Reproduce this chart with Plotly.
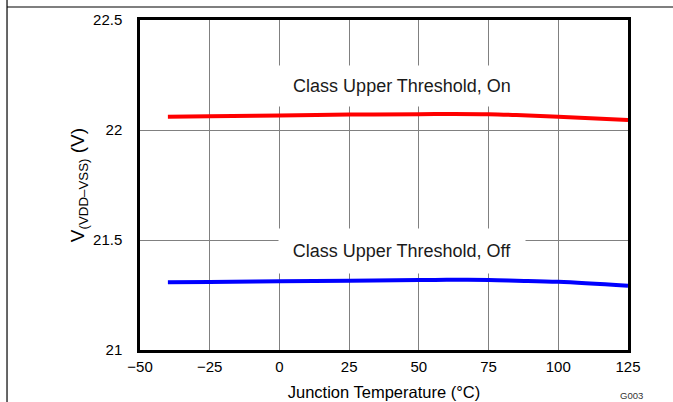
import plotly.graph_objects as go

temps = [-40, -25, 0, 25, 50, 60, 75, 85, 100, 125]
v_on = [22.060, 22.062, 22.066, 22.070, 22.072, 22.073, 22.072, 22.068, 22.060, 22.046]
v_off = [21.308, 21.309, 21.312, 21.315, 21.318, 21.319, 21.318, 21.315, 21.310, 21.292]
label_on = "Class Upper Threshold, On"
label_off = "Class Upper Threshold, Off"
x_ticks = [-50, -25, 0, 25, 50, 75, 100, 125]
y_ticks = [21, 21.5, 22, 22.5]
y_ticktext = ["21", "21.5", "22", "22.5"]

FONT = "Liberation Sans, Arial, sans-serif"

fig = go.Figure()
fig.add_trace(go.Scatter(x=temps, y=v_on, mode="lines",
                         line=dict(color="#ff0000", width=4, shape="spline"),
                         showlegend=False))
fig.add_trace(go.Scatter(x=temps, y=v_off, mode="lines",
                         line=dict(color="#0000ff", width=4, shape="spline"),
                         showlegend=False))

fig.add_annotation(x=44, y=22.2, xref="x", yref="y", text=label_on,
                   showarrow=False, bgcolor="white", width=244, height=38,
                   font=dict(family=FONT, size=18, color="#1a1a1a"))
fig.add_annotation(x=44, y=21.45, xref="x", yref="y", text=label_off,
                   showarrow=False, bgcolor="white", width=244, height=42,
                   font=dict(family=FONT, size=18, color="#1a1a1a"))

fig.add_annotation(x=1.008, y=-0.139, xref="paper", yref="paper", text="G003",
                   showarrow=False, xanchor="center", yanchor="middle",
                   font=dict(family=FONT, size=9.5, color="#333333"))

# page frame lines
fig.add_shape(type="line", xref="paper", yref="paper",
              x0=-0.2725, x1=1.1, y0=1.0394, y1=1.0394,
              line=dict(color="black", width=1.2))
fig.add_shape(type="line", xref="paper", yref="paper",
              x0=-0.2725, x1=-0.2725, y0=1.07, y1=-0.17,
              line=dict(color="black", width=1.2))

fig.update_xaxes(range=[-50, 125], tickvals=x_ticks, showgrid=True,
                 gridcolor="#808080", gridwidth=1, zeroline=False,
                 showline=True, linecolor="black", linewidth=2.5, mirror=True,
                 ticks="", ticklabelstandoff=1,
                 tickfont=dict(family=FONT, size=15, color="black"),
                 title=dict(text="Junction Temperature (°C)", standoff=13,
                            font=dict(family=FONT, size=16.5, color="black")))
fig.update_yaxes(range=[21, 22.5], tickvals=y_ticks, ticktext=y_ticktext,
                 showgrid=True, gridcolor="#808080", gridwidth=1, zeroline=False,
                 showline=True, linecolor="black", linewidth=2.5, mirror=True,
                 ticks="", ticklabelstandoff=12,
                 tickfont=dict(family=FONT, size=15, color="black"),
                 title=dict(text="V<sub>(VDD–VSS)</sub> (V)", standoff=4,
                            font=dict(family=FONT, size=19, color="black")))

fig.update_layout(width=673, height=402,
                  margin=dict(l=140, r=45, t=20, b=52, autoexpand=False),
                  paper_bgcolor="white", plot_bgcolor="white",
                  font=dict(family=FONT))

fig.write_html("out.html", config={"displayModeBar": False},
               post_script="document.body.style.margin='0px';")
